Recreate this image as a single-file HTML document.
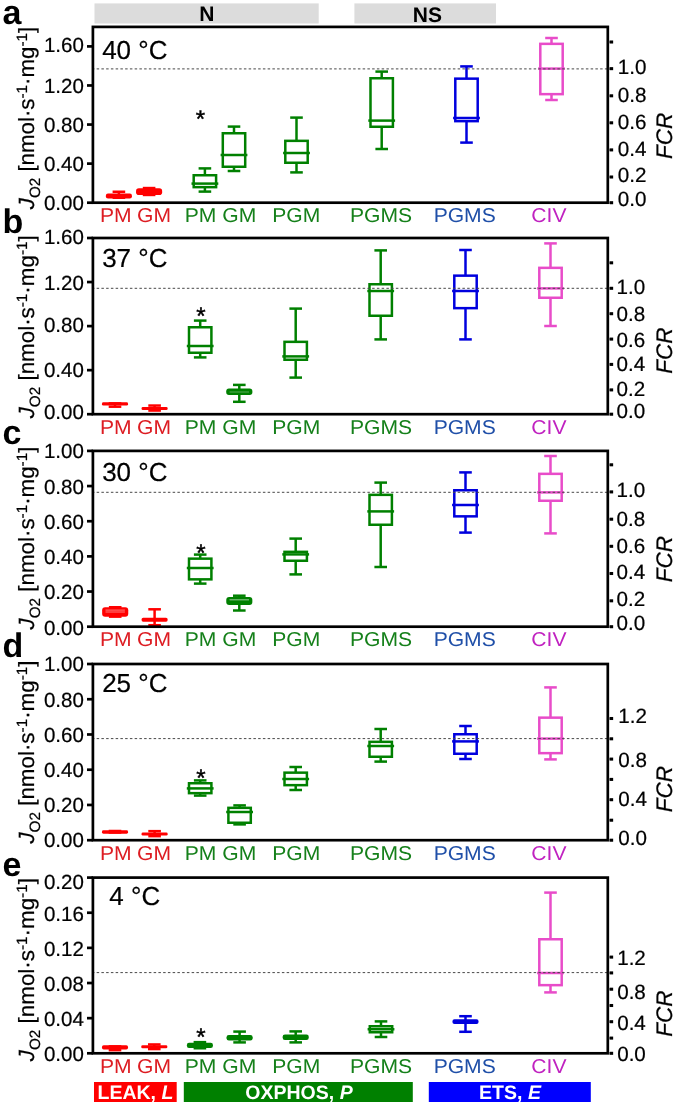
<!DOCTYPE html>
<html lang="en"><head><meta charset="utf-8"><title>Figure</title>
<style>html,body{margin:0;padding:0;background:#fff}svg{display:block;will-change:transform;text-rendering:geometricPrecision}text{font-family:'Liberation Sans', Arial, Helvetica, sans-serif;}.k{stroke:#000;stroke-width:0.22px}</style></head><body>
<svg width="675" height="1105" viewBox="0 0 675 1105">
<rect x="0" y="0" width="675" height="1105" fill="#ffffff"/>
<rect x="94.5" y="3.4" width="224.2" height="20.1" fill="#dcdcdc"/>
<rect x="354.4" y="3.4" width="141.6" height="20.1" fill="#dcdcdc"/>
<text x="206.9" y="21.4" font-size="21" font-weight="bold" text-anchor="middle" fill="#000">N</text>
<text x="427.4" y="21.6" font-size="21" font-weight="bold" text-anchor="middle" fill="#000">NS</text>
<!-- panel a -->
<g stroke="#ff0000" stroke-width="2.5" fill="none"><line x1="118.9" y1="191.75" x2="118.9" y2="194.5"/><line x1="112.6" y1="191.75" x2="125.2" y2="191.75"/><line x1="112.6" y1="197.75" x2="125.2" y2="197.75"/><rect x="105.85" y="193.5" width="26.1" height="5.1" rx="2.14" fill="#ff0000" stroke="none"/></g>
<g stroke="#ff0000" stroke-width="2.5" fill="none"><line x1="149.1" y1="188.05" x2="149.1" y2="189.3"/><line x1="142.8" y1="188.05" x2="155.4" y2="188.05"/><line x1="142.8" y1="194.95" x2="155.4" y2="194.95"/><rect x="136.05" y="188.3" width="26.1" height="6.7" rx="2.81" fill="#ff0000" stroke="none"/></g>
<g stroke="#008000" stroke-width="2.5" fill="none"><line x1="204.9" y1="168.4" x2="204.9" y2="175"/><line x1="204.9" y1="187.4" x2="204.9" y2="191.6"/><line x1="198.6" y1="168.4" x2="211.2" y2="168.4"/><line x1="198.6" y1="191.6" x2="211.2" y2="191.6"/><rect x="193.7" y="175.25" width="22.4" height="11.9"/><line x1="191.5" y1="183.6" x2="218.3" y2="183.6"/></g>
<g stroke="#008000" stroke-width="2.5" fill="none"><line x1="234" y1="126.6" x2="234" y2="133"/><line x1="234" y1="167" x2="234" y2="171"/><line x1="227.7" y1="126.6" x2="240.3" y2="126.6"/><line x1="227.7" y1="171" x2="240.3" y2="171"/><rect x="222.8" y="133.25" width="22.4" height="33.5"/><line x1="220.6" y1="155" x2="247.4" y2="155"/></g>
<g stroke="#008000" stroke-width="2.5" fill="none"><line x1="296.5" y1="117.6" x2="296.5" y2="140.6"/><line x1="296.5" y1="163" x2="296.5" y2="172.4"/><line x1="290.2" y1="117.6" x2="302.8" y2="117.6"/><line x1="290.2" y1="172.4" x2="302.8" y2="172.4"/><rect x="285.3" y="140.85" width="22.4" height="21.9"/><line x1="283.1" y1="153" x2="309.9" y2="153"/></g>
<g stroke="#008000" stroke-width="2.5" fill="none"><line x1="381.7" y1="71.6" x2="381.7" y2="78"/><line x1="381.7" y1="127" x2="381.7" y2="149"/><line x1="375.4" y1="71.6" x2="388" y2="71.6"/><line x1="375.4" y1="149" x2="388" y2="149"/><rect x="370.5" y="78.25" width="22.4" height="48.5"/><line x1="368.3" y1="120.6" x2="395.1" y2="120.6"/></g>
<g stroke="#0000de" stroke-width="2.5" fill="none"><line x1="466.5" y1="66.4" x2="466.5" y2="78.4"/><line x1="466.5" y1="121.4" x2="466.5" y2="142.6"/><line x1="460.2" y1="66.4" x2="472.8" y2="66.4"/><line x1="460.2" y1="142.6" x2="472.8" y2="142.6"/><rect x="455.3" y="78.65" width="22.4" height="42.5"/><line x1="453.1" y1="118" x2="479.9" y2="118"/></g>
<g stroke="#e84cc9" stroke-width="2.5" fill="none"><line x1="551.5" y1="38" x2="551.5" y2="43.6"/><line x1="551.5" y1="94.4" x2="551.5" y2="100"/><line x1="545.2" y1="38" x2="557.8" y2="38"/><line x1="545.2" y1="100" x2="557.8" y2="100"/><rect x="540.3" y="43.85" width="22.4" height="50.3"/><line x1="538.1" y1="68.6" x2="564.9" y2="68.6"/></g>
<line x1="93.9" y1="68.9" x2="607.8" y2="68.9" stroke="#484848" stroke-width="1.0" stroke-dasharray="2.5 2.25" stroke-dashoffset="2"/>
<rect x="92.9" y="26.9" width="514.9" height="175.8" fill="none" stroke="#000" stroke-width="2.7"/>
<line x1="87" y1="46.4" x2="92.9" y2="46.4" stroke="#000" stroke-width="2.7"/>
<text x="83.8" y="52.3" class="k" font-size="20.5" text-anchor="end" fill="#000">1.60</text>
<line x1="87" y1="85.47" x2="92.9" y2="85.47" stroke="#000" stroke-width="2.7"/>
<text x="83.8" y="93.47" class="k" font-size="20.5" text-anchor="end" fill="#000">1.20</text>
<line x1="87" y1="124.55" x2="92.9" y2="124.55" stroke="#000" stroke-width="2.7"/>
<text x="83.8" y="131.85" class="k" font-size="20.5" text-anchor="end" fill="#000">0.80</text>
<line x1="87" y1="163.62" x2="92.9" y2="163.62" stroke="#000" stroke-width="2.7"/>
<text x="83.8" y="171.43" class="k" font-size="20.5" text-anchor="end" fill="#000">0.40</text>
<line x1="87" y1="202.7" x2="92.9" y2="202.7" stroke="#000" stroke-width="2.7"/>
<text x="83.8" y="209.7" class="k" font-size="20.5" text-anchor="end" fill="#000">0.00</text>
<rect x="608.9" y="201.4" width="1.1" height="2.6" fill="#7a7a7a"/><rect x="609.85" y="201.18" width="3.3" height="3.05" fill="#000"/>
<rect x="608.9" y="175.7" width="1.1" height="2.6" fill="#7a7a7a"/><rect x="609.85" y="175.48" width="3.3" height="3.05" fill="#000"/>
<rect x="608.9" y="148.6" width="1.1" height="2.6" fill="#7a7a7a"/><rect x="609.85" y="148.38" width="3.3" height="3.05" fill="#000"/>
<rect x="608.9" y="121.5" width="1.1" height="2.6" fill="#7a7a7a"/><rect x="609.85" y="121.28" width="3.3" height="3.05" fill="#000"/>
<rect x="608.9" y="94.5" width="1.1" height="2.6" fill="#7a7a7a"/><rect x="609.85" y="94.28" width="3.3" height="3.05" fill="#000"/>
<rect x="608.9" y="67.35" width="1.1" height="2.6" fill="#7a7a7a"/><rect x="609.85" y="67.13" width="3.3" height="3.05" fill="#000"/>
<rect x="608.9" y="40.7" width="1.1" height="2.6" fill="#7a7a7a"/><rect x="609.85" y="40.48" width="3.3" height="3.05" fill="#000"/>
<text x="617.8" y="205.5" class="k" font-size="20.6" fill="#000">0.0</text>
<text x="617.8" y="182.3" class="k" font-size="20.6" fill="#000">0.2</text>
<text x="617.8" y="155.5" class="k" font-size="20.6" fill="#000">0.4</text>
<text x="617.8" y="129.3" class="k" font-size="20.6" fill="#000">0.6</text>
<text x="617.8" y="102.2" class="k" font-size="20.6" fill="#000">0.8</text>
<text x="617.8" y="73.9" class="k" font-size="20.6" fill="#000">1.0</text>
<text transform="translate(672.4 135.8) rotate(-90)" class="k" font-size="22.5" font-style="italic" text-anchor="middle" fill="#000">FCR</text>
<text transform="translate(34.2 209.2) rotate(-90)" class="k" font-size="22" fill="#000" textLength="182.3" lengthAdjust="spacingAndGlyphs"><tspan font-style="italic">J</tspan><tspan font-size="15" dy="5.6">O2</tspan><tspan dy="-5.6"> [nmol·s</tspan><tspan font-size="15" dy="-7.2">-1</tspan><tspan dy="7.2">·mg</tspan><tspan font-size="15" dy="-7.2">-1</tspan><tspan dy="7.2">]</tspan></text>
<text x="2.4" y="23.8" font-size="34" font-weight="bold" fill="#000">a</text>
<text x="134.8" y="58.8" class="k" font-size="26" text-anchor="middle" fill="#000">40 °C</text>
<text x="200.4" y="127" font-size="24" text-anchor="middle" fill="#000" stroke="#000" stroke-width="0.45">*</text>
<text transform="translate(115.7 222.4) scale(1.055 1)" font-size="20" text-anchor="middle" fill="#dd1c22">PM</text>
<text transform="translate(154 222.4) scale(1.055 1)" font-size="20" text-anchor="middle" fill="#dd1c22">GM</text>
<text transform="translate(200.5 222.4) scale(1.055 1)" font-size="20" text-anchor="middle" fill="#15801a">PM</text>
<text transform="translate(239.3 222.4) scale(1.055 1)" font-size="20" text-anchor="middle" fill="#15801a">GM</text>
<text transform="translate(296.2 222.4) scale(1.055 1)" font-size="20" text-anchor="middle" fill="#15801a">PGM</text>
<text transform="translate(381.1 222.4) scale(1.055 1)" font-size="20" text-anchor="middle" fill="#15801a">PGMS</text>
<text transform="translate(464.7 222.4) scale(1.055 1)" font-size="20" text-anchor="middle" fill="#1f4fa8">PGMS</text>
<text transform="translate(548.9 222.4) scale(1.055 1)" font-size="20" text-anchor="middle" fill="#c022c0">CIV</text>
<!-- panel b -->
<g stroke="#ff0000" stroke-width="2.5" fill="none"><line x1="115" y1="404.6" x2="115" y2="406.7"/><line x1="108.7" y1="403.4" x2="121.3" y2="403.4"/><line x1="108.7" y1="406.7" x2="121.3" y2="406.7"/><rect x="101.95" y="402.2" width="26.1" height="3.4" rx="1.43" fill="#ff0000" stroke="none"/></g>
<g stroke="#ff0000" stroke-width="2.5" fill="none"><line x1="154.6" y1="405.55" x2="154.6" y2="408"/><line x1="154.6" y1="409" x2="154.6" y2="410.55"/><line x1="148.3" y1="405.55" x2="160.9" y2="405.55"/><line x1="148.3" y1="410.55" x2="160.9" y2="410.55"/><rect x="141.55" y="407" width="26.1" height="3" rx="1.26" fill="#ff0000" stroke="none"/></g>
<g stroke="#008000" stroke-width="2.5" fill="none"><line x1="200.2" y1="320.6" x2="200.2" y2="327"/><line x1="200.2" y1="353" x2="200.2" y2="357.4"/><line x1="193.9" y1="320.6" x2="206.5" y2="320.6"/><line x1="193.9" y1="357.4" x2="206.5" y2="357.4"/><rect x="189" y="327.25" width="22.4" height="25.5"/><line x1="186.8" y1="346" x2="213.6" y2="346"/></g>
<g stroke="#008000" stroke-width="2.5" fill="none"><line x1="239.3" y1="384.9" x2="239.3" y2="389.6"/><line x1="239.3" y1="394" x2="239.3" y2="401.8"/><line x1="233" y1="384.9" x2="245.6" y2="384.9"/><line x1="233" y1="401.8" x2="245.6" y2="401.8"/><rect x="226.25" y="388.6" width="26.1" height="6.4" rx="2.69" fill="#008000" stroke="none"/><line x1="229.6" y1="392" x2="249" y2="392" stroke="#4fa64f" stroke-width="0.7"/><line x1="229.6" y1="392" x2="249" y2="392" stroke="#4fa64f" stroke-width="0.7"/></g>
<g stroke="#008000" stroke-width="2.5" fill="none"><line x1="295.7" y1="308.6" x2="295.7" y2="341.6"/><line x1="295.7" y1="360" x2="295.7" y2="377.6"/><line x1="289.4" y1="308.6" x2="302" y2="308.6"/><line x1="289.4" y1="377.6" x2="302" y2="377.6"/><rect x="284.5" y="341.85" width="22.4" height="17.9"/><line x1="282.3" y1="356.4" x2="309.1" y2="356.4"/></g>
<g stroke="#008000" stroke-width="2.5" fill="none"><line x1="380.7" y1="250.4" x2="380.7" y2="284"/><line x1="380.7" y1="316" x2="380.7" y2="339.4"/><line x1="374.4" y1="250.4" x2="387" y2="250.4"/><line x1="374.4" y1="339.4" x2="387" y2="339.4"/><rect x="369.5" y="284.25" width="22.4" height="31.5"/><line x1="367.3" y1="291" x2="394.1" y2="291"/></g>
<g stroke="#0000de" stroke-width="2.5" fill="none"><line x1="465.5" y1="250" x2="465.5" y2="275.4"/><line x1="465.5" y1="308.4" x2="465.5" y2="339.4"/><line x1="459.2" y1="250" x2="471.8" y2="250"/><line x1="459.2" y1="339.4" x2="471.8" y2="339.4"/><rect x="454.3" y="275.65" width="22.4" height="32.5"/><line x1="452.1" y1="291" x2="478.9" y2="291"/></g>
<g stroke="#e84cc9" stroke-width="2.5" fill="none"><line x1="550.5" y1="243.4" x2="550.5" y2="267.6"/><line x1="550.5" y1="298" x2="550.5" y2="326"/><line x1="544.2" y1="243.4" x2="556.8" y2="243.4"/><line x1="544.2" y1="326" x2="556.8" y2="326"/><rect x="539.3" y="267.85" width="22.4" height="29.9"/><line x1="537.1" y1="288.4" x2="563.9" y2="288.4"/></g>
<line x1="93.9" y1="288.3" x2="607.8" y2="288.3" stroke="#484848" stroke-width="1.0" stroke-dasharray="2.5 2.25" stroke-dashoffset="2"/>
<rect x="92.9" y="238" width="514.9" height="176.2" fill="none" stroke="#000" stroke-width="2.7"/>
<line x1="87" y1="238" x2="92.9" y2="238" stroke="#000" stroke-width="2.7"/>
<text x="83.8" y="243.6" class="k" font-size="20.5" text-anchor="end" fill="#000">1.60</text>
<line x1="87" y1="282.05" x2="92.9" y2="282.05" stroke="#000" stroke-width="2.7"/>
<text x="83.8" y="289.85" class="k" font-size="20.5" text-anchor="end" fill="#000">1.20</text>
<line x1="87" y1="326.1" x2="92.9" y2="326.1" stroke="#000" stroke-width="2.7"/>
<text x="83.8" y="331.9" class="k" font-size="20.5" text-anchor="end" fill="#000">0.80</text>
<line x1="87" y1="370.15" x2="92.9" y2="370.15" stroke="#000" stroke-width="2.7"/>
<text x="83.8" y="377.35" class="k" font-size="20.5" text-anchor="end" fill="#000">0.40</text>
<line x1="87" y1="414.2" x2="92.9" y2="414.2" stroke="#000" stroke-width="2.7"/>
<text x="83.8" y="419" class="k" font-size="20.5" text-anchor="end" fill="#000">0.00</text>
<rect x="608.9" y="412.9" width="1.1" height="2.6" fill="#7a7a7a"/><rect x="609.85" y="412.68" width="3.3" height="3.05" fill="#000"/>
<rect x="608.9" y="388.6" width="1.1" height="2.6" fill="#7a7a7a"/><rect x="609.85" y="388.38" width="3.3" height="3.05" fill="#000"/>
<rect x="608.9" y="363.1" width="1.1" height="2.6" fill="#7a7a7a"/><rect x="609.85" y="362.88" width="3.3" height="3.05" fill="#000"/>
<rect x="608.9" y="337.8" width="1.1" height="2.6" fill="#7a7a7a"/><rect x="609.85" y="337.58" width="3.3" height="3.05" fill="#000"/>
<rect x="608.9" y="312.4" width="1.1" height="2.6" fill="#7a7a7a"/><rect x="609.85" y="312.18" width="3.3" height="3.05" fill="#000"/>
<rect x="608.9" y="287" width="1.1" height="2.6" fill="#7a7a7a"/><rect x="609.85" y="286.78" width="3.3" height="3.05" fill="#000"/>
<rect x="608.9" y="261.5" width="1.1" height="2.6" fill="#7a7a7a"/><rect x="609.85" y="261.28" width="3.3" height="3.05" fill="#000"/>
<text x="616.5" y="418.4" class="k" font-size="20.6" fill="#000">0.0</text>
<text x="616.5" y="395.9" class="k" font-size="20.6" fill="#000">0.2</text>
<text x="616.5" y="371.1" class="k" font-size="20.6" fill="#000">0.4</text>
<text x="616.5" y="346.5" class="k" font-size="20.6" fill="#000">0.6</text>
<text x="616.5" y="320.8" class="k" font-size="20.6" fill="#000">0.8</text>
<text x="616.5" y="294.2" class="k" font-size="20.6" fill="#000">1.0</text>
<text transform="translate(672.4 350.6) rotate(-90)" class="k" font-size="22.5" font-style="italic" text-anchor="middle" fill="#000">FCR</text>
<text transform="translate(34.2 418.3) rotate(-90)" class="k" font-size="22" fill="#000" textLength="183" lengthAdjust="spacingAndGlyphs"><tspan font-style="italic">J</tspan><tspan font-size="15" dy="5.6">O2</tspan><tspan dy="-5.6"> [nmol·s</tspan><tspan font-size="15" dy="-7.2">-1</tspan><tspan dy="7.2">·mg</tspan><tspan font-size="15" dy="-7.2">-1</tspan><tspan dy="7.2">]</tspan></text>
<text x="2.4" y="232.6" font-size="34" font-weight="bold" fill="#000">b</text>
<text x="134.8" y="267.3" class="k" font-size="26" text-anchor="middle" fill="#000">37 °C</text>
<text x="201" y="323.6" font-size="24" text-anchor="middle" fill="#000" stroke="#000" stroke-width="0.45">*</text>
<text transform="translate(115.7 433.9) scale(1.055 1)" font-size="20" text-anchor="middle" fill="#dd1c22">PM</text>
<text transform="translate(154 433.9) scale(1.055 1)" font-size="20" text-anchor="middle" fill="#dd1c22">GM</text>
<text transform="translate(200.5 433.9) scale(1.055 1)" font-size="20" text-anchor="middle" fill="#15801a">PM</text>
<text transform="translate(239.3 433.9) scale(1.055 1)" font-size="20" text-anchor="middle" fill="#15801a">GM</text>
<text transform="translate(296.2 433.9) scale(1.055 1)" font-size="20" text-anchor="middle" fill="#15801a">PGM</text>
<text transform="translate(381.1 433.9) scale(1.055 1)" font-size="20" text-anchor="middle" fill="#15801a">PGMS</text>
<text transform="translate(464.7 433.9) scale(1.055 1)" font-size="20" text-anchor="middle" fill="#1f4fa8">PGMS</text>
<text transform="translate(548.9 433.9) scale(1.055 1)" font-size="20" text-anchor="middle" fill="#c022c0">CIV</text>
<!-- panel c -->
<g stroke="#ff0000" stroke-width="2.5" fill="none"><line x1="108.9" y1="607.25" x2="121.5" y2="607.25"/><line x1="108.9" y1="616.65" x2="121.5" y2="616.65"/><rect x="102.15" y="607.2" width="26.1" height="9.5" rx="3" fill="#ff0000" stroke="none"/><line x1="105.5" y1="610.1" x2="124.9" y2="610.1" stroke="#ffb4b4" stroke-width="0.7"/><line x1="105.5" y1="612" x2="124.9" y2="612" stroke="#ffb4b4" stroke-width="0.7"/></g>
<g stroke="#ff0000" stroke-width="2.5" fill="none"><line x1="154.6" y1="609.3" x2="154.6" y2="618.8"/><line x1="154.6" y1="620.7" x2="154.6" y2="625.2"/><line x1="148.3" y1="609.3" x2="160.9" y2="609.3"/><line x1="148.3" y1="625.2" x2="160.9" y2="625.2"/><rect x="141.55" y="617.8" width="26.1" height="3.9" rx="1.64" fill="#ff0000" stroke="none"/></g>
<g stroke="#008000" stroke-width="2.5" fill="none"><line x1="200.2" y1="554.6" x2="200.2" y2="558.4"/><line x1="200.2" y1="579.6" x2="200.2" y2="583.6"/><line x1="193.9" y1="554.6" x2="206.5" y2="554.6"/><line x1="193.9" y1="583.6" x2="206.5" y2="583.6"/><rect x="189" y="558.65" width="22.4" height="20.7"/><line x1="186.8" y1="568" x2="213.6" y2="568"/></g>
<g stroke="#008000" stroke-width="2.5" fill="none"><line x1="239.3" y1="595.7" x2="239.3" y2="598.1"/><line x1="239.3" y1="604" x2="239.3" y2="610.5"/><line x1="233" y1="595.7" x2="245.6" y2="595.7"/><line x1="233" y1="610.5" x2="245.6" y2="610.5"/><rect x="226.25" y="597.1" width="26.1" height="7.9" rx="3" fill="#008000" stroke="none"/><line x1="229.6" y1="599.8" x2="249" y2="599.8" stroke="#8cc68c" stroke-width="0.7"/><line x1="229.6" y1="599.8" x2="249" y2="599.8" stroke="#8cc68c" stroke-width="0.7"/></g>
<g stroke="#008000" stroke-width="2.5" fill="none"><line x1="295.7" y1="538.6" x2="295.7" y2="551.6"/><line x1="295.7" y1="561" x2="295.7" y2="574.4"/><line x1="289.4" y1="538.6" x2="302" y2="538.6"/><line x1="289.4" y1="574.4" x2="302" y2="574.4"/><rect x="284.5" y="551.85" width="22.4" height="8.9"/><line x1="282.3" y1="554.4" x2="309.1" y2="554.4"/></g>
<g stroke="#008000" stroke-width="2.5" fill="none"><line x1="380.7" y1="482.6" x2="380.7" y2="494.6"/><line x1="380.7" y1="525" x2="380.7" y2="567"/><line x1="374.4" y1="482.6" x2="387" y2="482.6"/><line x1="374.4" y1="567" x2="387" y2="567"/><rect x="369.5" y="494.85" width="22.4" height="29.9"/><line x1="367.3" y1="511.4" x2="394.1" y2="511.4"/></g>
<g stroke="#0000de" stroke-width="2.5" fill="none"><line x1="465.5" y1="472.4" x2="465.5" y2="490"/><line x1="465.5" y1="516.6" x2="465.5" y2="532.6"/><line x1="459.2" y1="472.4" x2="471.8" y2="472.4"/><line x1="459.2" y1="532.6" x2="471.8" y2="532.6"/><rect x="454.3" y="490.25" width="22.4" height="26.1"/><line x1="452.1" y1="505" x2="478.9" y2="505"/></g>
<g stroke="#e84cc9" stroke-width="2.5" fill="none"><line x1="550.5" y1="456" x2="550.5" y2="473.6"/><line x1="550.5" y1="501" x2="550.5" y2="533.4"/><line x1="544.2" y1="456" x2="556.8" y2="456"/><line x1="544.2" y1="533.4" x2="556.8" y2="533.4"/><rect x="539.3" y="473.85" width="22.4" height="26.9"/><line x1="537.1" y1="492.4" x2="563.9" y2="492.4"/></g>
<line x1="93.9" y1="492.3" x2="607.8" y2="492.3" stroke="#484848" stroke-width="1.0" stroke-dasharray="2.5 2.25" stroke-dashoffset="2"/>
<rect x="92.9" y="450.9" width="514.9" height="175.8" fill="none" stroke="#000" stroke-width="2.7"/>
<line x1="87" y1="450.9" x2="92.9" y2="450.9" stroke="#000" stroke-width="2.7"/>
<text x="83.8" y="458.4" class="k" font-size="20.5" text-anchor="end" fill="#000">1.00</text>
<line x1="87" y1="486.06" x2="92.9" y2="486.06" stroke="#000" stroke-width="2.7"/>
<text x="83.8" y="494.26" class="k" font-size="20.5" text-anchor="end" fill="#000">0.80</text>
<line x1="87" y1="521.22" x2="92.9" y2="521.22" stroke="#000" stroke-width="2.7"/>
<text x="83.8" y="529.32" class="k" font-size="20.5" text-anchor="end" fill="#000">0.60</text>
<line x1="87" y1="556.38" x2="92.9" y2="556.38" stroke="#000" stroke-width="2.7"/>
<text x="83.8" y="564.38" class="k" font-size="20.5" text-anchor="end" fill="#000">0.40</text>
<line x1="87" y1="591.54" x2="92.9" y2="591.54" stroke="#000" stroke-width="2.7"/>
<text x="83.8" y="599.44" class="k" font-size="20.5" text-anchor="end" fill="#000">0.20</text>
<line x1="87" y1="626.7" x2="92.9" y2="626.7" stroke="#000" stroke-width="2.7"/>
<text x="83.8" y="634.6" class="k" font-size="20.5" text-anchor="end" fill="#000">0.00</text>
<rect x="608.9" y="625.4" width="1.1" height="2.6" fill="#7a7a7a"/><rect x="609.85" y="625.18" width="3.3" height="3.05" fill="#000"/>
<rect x="608.9" y="599.5" width="1.1" height="2.6" fill="#7a7a7a"/><rect x="609.85" y="599.28" width="3.3" height="3.05" fill="#000"/>
<rect x="608.9" y="572.2" width="1.1" height="2.6" fill="#7a7a7a"/><rect x="609.85" y="571.98" width="3.3" height="3.05" fill="#000"/>
<rect x="608.9" y="545" width="1.1" height="2.6" fill="#7a7a7a"/><rect x="609.85" y="544.78" width="3.3" height="3.05" fill="#000"/>
<rect x="608.9" y="517.9" width="1.1" height="2.6" fill="#7a7a7a"/><rect x="609.85" y="517.68" width="3.3" height="3.05" fill="#000"/>
<rect x="608.9" y="490.6" width="1.1" height="2.6" fill="#7a7a7a"/><rect x="609.85" y="490.38" width="3.3" height="3.05" fill="#000"/>
<rect x="608.9" y="463.5" width="1.1" height="2.6" fill="#7a7a7a"/><rect x="609.85" y="463.28" width="3.3" height="3.05" fill="#000"/>
<text x="616.5" y="629.7" class="k" font-size="20.6" fill="#000">0.0</text>
<text x="616.5" y="605.9" class="k" font-size="20.6" fill="#000">0.2</text>
<text x="616.5" y="578.9" class="k" font-size="20.6" fill="#000">0.4</text>
<text x="616.5" y="552.9" class="k" font-size="20.6" fill="#000">0.6</text>
<text x="616.5" y="525.7" class="k" font-size="20.6" fill="#000">0.8</text>
<text x="616.5" y="497.2" class="k" font-size="20.6" fill="#000">1.0</text>
<text transform="translate(672.4 559) rotate(-90)" class="k" font-size="22.5" font-style="italic" text-anchor="middle" fill="#000">FCR</text>
<text transform="translate(34.2 629.4) rotate(-90)" class="k" font-size="22" fill="#000" textLength="182.8" lengthAdjust="spacingAndGlyphs"><tspan font-style="italic">J</tspan><tspan font-size="15" dy="5.6">O2</tspan><tspan dy="-5.6"> [nmol·s</tspan><tspan font-size="15" dy="-7.2">-1</tspan><tspan dy="7.2">·mg</tspan><tspan font-size="15" dy="-7.2">-1</tspan><tspan dy="7.2">]</tspan></text>
<text x="2.4" y="443.9" font-size="34" font-weight="bold" fill="#000">c</text>
<text x="134.8" y="480.8" class="k" font-size="26" text-anchor="middle" fill="#000">30 °C</text>
<text x="201" y="560.9" font-size="24" text-anchor="middle" fill="#000" stroke="#000" stroke-width="0.45">*</text>
<text transform="translate(115.7 646.4) scale(1.055 1)" font-size="20" text-anchor="middle" fill="#dd1c22">PM</text>
<text transform="translate(154 646.4) scale(1.055 1)" font-size="20" text-anchor="middle" fill="#dd1c22">GM</text>
<text transform="translate(200.5 646.4) scale(1.055 1)" font-size="20" text-anchor="middle" fill="#15801a">PM</text>
<text transform="translate(239.3 646.4) scale(1.055 1)" font-size="20" text-anchor="middle" fill="#15801a">GM</text>
<text transform="translate(296.2 646.4) scale(1.055 1)" font-size="20" text-anchor="middle" fill="#15801a">PGM</text>
<text transform="translate(381.1 646.4) scale(1.055 1)" font-size="20" text-anchor="middle" fill="#15801a">PGMS</text>
<text transform="translate(464.7 646.4) scale(1.055 1)" font-size="20" text-anchor="middle" fill="#1f4fa8">PGMS</text>
<text transform="translate(548.9 646.4) scale(1.055 1)" font-size="20" text-anchor="middle" fill="#c022c0">CIV</text>
<!-- panel d -->
<g stroke="#ff0000" stroke-width="2.5" fill="none"><line x1="108.7" y1="831" x2="121.3" y2="831"/><line x1="108.7" y1="832.5" x2="121.3" y2="832.5"/><rect x="101.95" y="830.3" width="26.1" height="3.4" rx="1.43" fill="#ff0000" stroke="none"/></g>
<g stroke="#ff0000" stroke-width="2.5" fill="none"><line x1="154.6" y1="831.15" x2="154.6" y2="833.6"/><line x1="154.6" y1="834.6" x2="154.6" y2="836.15"/><line x1="148.3" y1="831.15" x2="160.9" y2="831.15"/><line x1="148.3" y1="836.15" x2="160.9" y2="836.15"/><rect x="141.55" y="832.6" width="26.1" height="3" rx="1.26" fill="#ff0000" stroke="none"/></g>
<g stroke="#008000" stroke-width="2.5" fill="none"><line x1="200.2" y1="780.4" x2="200.2" y2="783"/><line x1="200.2" y1="793.4" x2="200.2" y2="795.6"/><line x1="193.9" y1="780.4" x2="206.5" y2="780.4"/><line x1="193.9" y1="795.6" x2="206.5" y2="795.6"/><rect x="189" y="783.25" width="22.4" height="9.9"/><line x1="186.8" y1="788.4" x2="213.6" y2="788.4"/></g>
<g stroke="#008000" stroke-width="2.5" fill="none"><line x1="239.6" y1="805.4" x2="239.6" y2="807.6"/><line x1="239.6" y1="823" x2="239.6" y2="824.4"/><line x1="233.3" y1="805.4" x2="245.9" y2="805.4"/><line x1="233.3" y1="824.4" x2="245.9" y2="824.4"/><rect x="228.4" y="807.85" width="22.4" height="14.9"/><line x1="226.2" y1="812" x2="253" y2="812"/></g>
<g stroke="#008000" stroke-width="2.5" fill="none"><line x1="295.7" y1="767" x2="295.7" y2="772.4"/><line x1="295.7" y1="785.4" x2="295.7" y2="790"/><line x1="289.4" y1="767" x2="302" y2="767"/><line x1="289.4" y1="790" x2="302" y2="790"/><rect x="284.5" y="772.65" width="22.4" height="12.5"/><line x1="282.3" y1="779" x2="309.1" y2="779"/></g>
<g stroke="#008000" stroke-width="2.5" fill="none"><line x1="380.7" y1="729" x2="380.7" y2="741.6"/><line x1="380.7" y1="757" x2="380.7" y2="761.6"/><line x1="374.4" y1="729" x2="387" y2="729"/><line x1="374.4" y1="761.6" x2="387" y2="761.6"/><rect x="369.5" y="741.85" width="22.4" height="14.9"/><line x1="367.3" y1="746" x2="394.1" y2="746"/></g>
<g stroke="#0000de" stroke-width="2.5" fill="none"><line x1="465.5" y1="726" x2="465.5" y2="734"/><line x1="465.5" y1="754" x2="465.5" y2="759"/><line x1="459.2" y1="726" x2="471.8" y2="726"/><line x1="459.2" y1="759" x2="471.8" y2="759"/><rect x="454.3" y="734.25" width="22.4" height="19.5"/><line x1="452.1" y1="741.4" x2="478.9" y2="741.4"/></g>
<g stroke="#e84cc9" stroke-width="2.5" fill="none"><line x1="550.5" y1="687.4" x2="550.5" y2="717.4"/><line x1="550.5" y1="753.4" x2="550.5" y2="759.4"/><line x1="544.2" y1="687.4" x2="556.8" y2="687.4"/><line x1="544.2" y1="759.4" x2="556.8" y2="759.4"/><rect x="539.3" y="717.65" width="22.4" height="35.5"/><line x1="537.1" y1="738.6" x2="563.9" y2="738.6"/></g>
<line x1="93.9" y1="738.6" x2="607.8" y2="738.6" stroke="#484848" stroke-width="1.0" stroke-dasharray="2.5 2.25" stroke-dashoffset="2"/>
<rect x="92.9" y="664" width="514.9" height="176.2" fill="none" stroke="#000" stroke-width="2.7"/>
<line x1="87" y1="664" x2="92.9" y2="664" stroke="#000" stroke-width="2.7"/>
<text x="83.8" y="671.3" class="k" font-size="20.5" text-anchor="end" fill="#000">1.00</text>
<line x1="87" y1="699.24" x2="92.9" y2="699.24" stroke="#000" stroke-width="2.7"/>
<text x="83.8" y="707.14" class="k" font-size="20.5" text-anchor="end" fill="#000">0.80</text>
<line x1="87" y1="734.48" x2="92.9" y2="734.48" stroke="#000" stroke-width="2.7"/>
<text x="83.8" y="742.18" class="k" font-size="20.5" text-anchor="end" fill="#000">0.60</text>
<line x1="87" y1="769.72" x2="92.9" y2="769.72" stroke="#000" stroke-width="2.7"/>
<text x="83.8" y="777.12" class="k" font-size="20.5" text-anchor="end" fill="#000">0.40</text>
<line x1="87" y1="804.96" x2="92.9" y2="804.96" stroke="#000" stroke-width="2.7"/>
<text x="83.8" y="811.96" class="k" font-size="20.5" text-anchor="end" fill="#000">0.20</text>
<line x1="87" y1="840.2" x2="92.9" y2="840.2" stroke="#000" stroke-width="2.7"/>
<text x="83.8" y="846.8" class="k" font-size="20.5" text-anchor="end" fill="#000">0.00</text>
<rect x="608.9" y="838.9" width="1.1" height="2.6" fill="#7a7a7a"/><rect x="609.85" y="838.68" width="3.3" height="3.05" fill="#000"/>
<rect x="608.9" y="818.9" width="1.1" height="2.6" fill="#7a7a7a"/><rect x="609.85" y="818.68" width="3.3" height="3.05" fill="#000"/>
<rect x="608.9" y="798.4" width="1.1" height="2.6" fill="#7a7a7a"/><rect x="609.85" y="798.18" width="3.3" height="3.05" fill="#000"/>
<rect x="608.9" y="778.1" width="1.1" height="2.6" fill="#7a7a7a"/><rect x="609.85" y="777.88" width="3.3" height="3.05" fill="#000"/>
<rect x="608.9" y="757.8" width="1.1" height="2.6" fill="#7a7a7a"/><rect x="609.85" y="757.58" width="3.3" height="3.05" fill="#000"/>
<rect x="608.9" y="737.5" width="1.1" height="2.6" fill="#7a7a7a"/><rect x="609.85" y="737.28" width="3.3" height="3.05" fill="#000"/>
<rect x="608.9" y="717.2" width="1.1" height="2.6" fill="#7a7a7a"/><rect x="609.85" y="716.98" width="3.3" height="3.05" fill="#000"/>
<text x="618.3" y="844.5" class="k" font-size="20.6" fill="#000">0.0</text>
<text x="618.3" y="806.2" class="k" font-size="20.6" fill="#000">0.4</text>
<text x="618.3" y="766.5" class="k" font-size="20.6" fill="#000">0.8</text>
<text x="618.3" y="723.1" class="k" font-size="20.6" fill="#000">1.2</text>
<text transform="translate(672.4 789) rotate(-90)" class="k" font-size="22.5" font-style="italic" text-anchor="middle" fill="#000">FCR</text>
<text transform="translate(34.2 843.6) rotate(-90)" class="k" font-size="22" fill="#000" textLength="183.1" lengthAdjust="spacingAndGlyphs"><tspan font-style="italic">J</tspan><tspan font-size="15" dy="5.6">O2</tspan><tspan dy="-5.6"> [nmol·s</tspan><tspan font-size="15" dy="-7.2">-1</tspan><tspan dy="7.2">·mg</tspan><tspan font-size="15" dy="-7.2">-1</tspan><tspan dy="7.2">]</tspan></text>
<text x="2.4" y="657" font-size="34" font-weight="bold" fill="#000">d</text>
<text x="134.8" y="692.1" class="k" font-size="26" text-anchor="middle" fill="#000">25 °C</text>
<text x="201" y="785.9" font-size="24" text-anchor="middle" fill="#000" stroke="#000" stroke-width="0.45">*</text>
<text transform="translate(115.7 859.9) scale(1.055 1)" font-size="20" text-anchor="middle" fill="#dd1c22">PM</text>
<text transform="translate(154 859.9) scale(1.055 1)" font-size="20" text-anchor="middle" fill="#dd1c22">GM</text>
<text transform="translate(200.5 859.9) scale(1.055 1)" font-size="20" text-anchor="middle" fill="#15801a">PM</text>
<text transform="translate(239.3 859.9) scale(1.055 1)" font-size="20" text-anchor="middle" fill="#15801a">GM</text>
<text transform="translate(296.2 859.9) scale(1.055 1)" font-size="20" text-anchor="middle" fill="#15801a">PGM</text>
<text transform="translate(381.1 859.9) scale(1.055 1)" font-size="20" text-anchor="middle" fill="#15801a">PGMS</text>
<text transform="translate(464.7 859.9) scale(1.055 1)" font-size="20" text-anchor="middle" fill="#1f4fa8">PGMS</text>
<text transform="translate(548.9 859.9) scale(1.055 1)" font-size="20" text-anchor="middle" fill="#c022c0">CIV</text>
<!-- panel e -->
<g stroke="#ff0000" stroke-width="2.5" fill="none"><line x1="115" y1="1048.4" x2="115" y2="1050.15"/><line x1="108.7" y1="1046.4" x2="121.3" y2="1046.4"/><line x1="108.7" y1="1050.15" x2="121.3" y2="1050.15"/><rect x="101.95" y="1045.2" width="26.1" height="4.2" rx="1.76" fill="#ff0000" stroke="none"/></g>
<g stroke="#ff0000" stroke-width="2.5" fill="none"><line x1="154.3" y1="1044.45" x2="154.3" y2="1046.2"/><line x1="154.3" y1="1047.3" x2="154.3" y2="1049.05"/><line x1="148" y1="1044.45" x2="160.6" y2="1044.45"/><line x1="148" y1="1049.05" x2="160.6" y2="1049.05"/><rect x="141.25" y="1045.2" width="26.1" height="3.1" rx="1.3" fill="#ff0000" stroke="none"/></g>
<g stroke="#008000" stroke-width="2.5" fill="none"><line x1="199.9" y1="1042.15" x2="199.9" y2="1043.8"/><line x1="199.9" y1="1047" x2="199.9" y2="1048.25"/><line x1="193.6" y1="1042.15" x2="206.2" y2="1042.15"/><line x1="193.6" y1="1048.25" x2="206.2" y2="1048.25"/><rect x="186.85" y="1042.8" width="26.1" height="5.2" rx="2.18" fill="#008000" stroke="none"/></g>
<g stroke="#008000" stroke-width="2.5" fill="none"><line x1="239.6" y1="1031.6" x2="239.6" y2="1036"/><line x1="239.6" y1="1039.4" x2="239.6" y2="1042.4"/><line x1="233.3" y1="1031.6" x2="245.9" y2="1031.6"/><line x1="233.3" y1="1042.4" x2="245.9" y2="1042.4"/><rect x="226.55" y="1035" width="26.1" height="5.4" rx="2.27" fill="#008000" stroke="none"/></g>
<g stroke="#008000" stroke-width="2.5" fill="none"><line x1="295.7" y1="1031.4" x2="295.7" y2="1035.6"/><line x1="295.7" y1="1039" x2="295.7" y2="1042.4"/><line x1="289.4" y1="1031.4" x2="302" y2="1031.4"/><line x1="289.4" y1="1042.4" x2="302" y2="1042.4"/><rect x="282.65" y="1034.6" width="26.1" height="5.4" rx="2.27" fill="#008000" stroke="none"/></g>
<g stroke="#008000" stroke-width="2.5" fill="none"><line x1="381" y1="1021.4" x2="381" y2="1026"/><line x1="381" y1="1032.5" x2="381" y2="1037"/><line x1="374.7" y1="1021.4" x2="387.3" y2="1021.4"/><line x1="374.7" y1="1037" x2="387.3" y2="1037"/><rect x="369.8" y="1026.25" width="22.4" height="6"/><line x1="367.6" y1="1029.25" x2="394.4" y2="1029.25"/></g>
<g stroke="#0000de" stroke-width="2.5" fill="none"><line x1="465.5" y1="1016.2" x2="465.5" y2="1020.2"/><line x1="465.5" y1="1022.9" x2="465.5" y2="1031.8"/><line x1="459.2" y1="1016.2" x2="471.8" y2="1016.2"/><line x1="459.2" y1="1031.8" x2="471.8" y2="1031.8"/><rect x="452.45" y="1019.2" width="26.1" height="4.7" rx="1.97" fill="#0000de" stroke="none"/></g>
<g stroke="#e84cc9" stroke-width="2.5" fill="none"><line x1="550.5" y1="892.6" x2="550.5" y2="939"/><line x1="550.5" y1="985.4" x2="550.5" y2="992.4"/><line x1="544.2" y1="892.6" x2="556.8" y2="892.6"/><line x1="544.2" y1="992.4" x2="556.8" y2="992.4"/><rect x="539.3" y="939.25" width="22.4" height="45.9"/><line x1="537.1" y1="973" x2="563.9" y2="973"/></g>
<line x1="93.9" y1="972.6" x2="607.8" y2="972.6" stroke="#484848" stroke-width="1.0" stroke-dasharray="2.5 2.25" stroke-dashoffset="2"/>
<rect x="92.9" y="877.6" width="514.9" height="175.7" fill="none" stroke="#000" stroke-width="2.7"/>
<line x1="87" y1="877.6" x2="92.9" y2="877.6" stroke="#000" stroke-width="2.7"/>
<text x="83.8" y="888.8" class="k" font-size="20.5" text-anchor="end" fill="#000">0.20</text>
<line x1="87" y1="912.74" x2="92.9" y2="912.74" stroke="#000" stroke-width="2.7"/>
<text x="83.8" y="920.94" class="k" font-size="20.5" text-anchor="end" fill="#000">0.16</text>
<line x1="87" y1="947.88" x2="92.9" y2="947.88" stroke="#000" stroke-width="2.7"/>
<text x="83.8" y="955.98" class="k" font-size="20.5" text-anchor="end" fill="#000">0.12</text>
<line x1="87" y1="983.02" x2="92.9" y2="983.02" stroke="#000" stroke-width="2.7"/>
<text x="83.8" y="990.92" class="k" font-size="20.5" text-anchor="end" fill="#000">0.08</text>
<line x1="87" y1="1018.16" x2="92.9" y2="1018.16" stroke="#000" stroke-width="2.7"/>
<text x="83.8" y="1025.76" class="k" font-size="20.5" text-anchor="end" fill="#000">0.04</text>
<line x1="87" y1="1053.3" x2="92.9" y2="1053.3" stroke="#000" stroke-width="2.7"/>
<text x="83.8" y="1060.6" class="k" font-size="20.5" text-anchor="end" fill="#000">0.00</text>
<rect x="608.9" y="1052" width="1.1" height="2.6" fill="#7a7a7a"/><rect x="609.85" y="1051.78" width="3.3" height="3.05" fill="#000"/>
<rect x="608.9" y="1036.8" width="1.1" height="2.6" fill="#7a7a7a"/><rect x="609.85" y="1036.58" width="3.3" height="3.05" fill="#000"/>
<rect x="608.9" y="1020.4" width="1.1" height="2.6" fill="#7a7a7a"/><rect x="609.85" y="1020.18" width="3.3" height="3.05" fill="#000"/>
<rect x="608.9" y="1004.2" width="1.1" height="2.6" fill="#7a7a7a"/><rect x="609.85" y="1003.98" width="3.3" height="3.05" fill="#000"/>
<rect x="608.9" y="987.9" width="1.1" height="2.6" fill="#7a7a7a"/><rect x="609.85" y="987.68" width="3.3" height="3.05" fill="#000"/>
<rect x="608.9" y="971.6" width="1.1" height="2.6" fill="#7a7a7a"/><rect x="609.85" y="971.38" width="3.3" height="3.05" fill="#000"/>
<rect x="608.9" y="955.8" width="1.1" height="2.6" fill="#7a7a7a"/><rect x="609.85" y="955.58" width="3.3" height="3.05" fill="#000"/>
<text x="617.2" y="1060.5" class="k" font-size="20.6" fill="#000">0.0</text>
<text x="617.2" y="1030.3" class="k" font-size="20.6" fill="#000">0.4</text>
<text x="617.2" y="998.7" class="k" font-size="20.6" fill="#000">0.8</text>
<text x="617.2" y="964.8" class="k" font-size="20.6" fill="#000">1.2</text>
<text transform="translate(672.4 1013.5) rotate(-90)" class="k" font-size="22.5" font-style="italic" text-anchor="middle" fill="#000">FCR</text>
<text transform="translate(34.2 1061.2) rotate(-90)" class="k" font-size="22" fill="#000" textLength="183.1" lengthAdjust="spacingAndGlyphs"><tspan font-style="italic">J</tspan><tspan font-size="15" dy="5.6">O2</tspan><tspan dy="-5.6"> [nmol·s</tspan><tspan font-size="15" dy="-7.2">-1</tspan><tspan dy="7.2">·mg</tspan><tspan font-size="15" dy="-7.2">-1</tspan><tspan dy="7.2">]</tspan></text>
<text x="2.4" y="875.9" font-size="34" font-weight="bold" fill="#000">e</text>
<text x="134.8" y="905.1" class="k" font-size="26" text-anchor="middle" fill="#000">4 °C</text>
<text x="201" y="1044.8" font-size="24" text-anchor="middle" fill="#000" stroke="#000" stroke-width="0.45">*</text>
<text transform="translate(115.7 1073) scale(1.055 1)" font-size="20" text-anchor="middle" fill="#dd1c22">PM</text>
<text transform="translate(154 1073) scale(1.055 1)" font-size="20" text-anchor="middle" fill="#dd1c22">GM</text>
<text transform="translate(200.5 1073) scale(1.055 1)" font-size="20" text-anchor="middle" fill="#15801a">PM</text>
<text transform="translate(239.3 1073) scale(1.055 1)" font-size="20" text-anchor="middle" fill="#15801a">GM</text>
<text transform="translate(296.2 1073) scale(1.055 1)" font-size="20" text-anchor="middle" fill="#15801a">PGM</text>
<text transform="translate(381.1 1073) scale(1.055 1)" font-size="20" text-anchor="middle" fill="#15801a">PGMS</text>
<text transform="translate(464.7 1073) scale(1.055 1)" font-size="20" text-anchor="middle" fill="#1f4fa8">PGMS</text>
<text transform="translate(548.9 1073) scale(1.055 1)" font-size="20" text-anchor="middle" fill="#c022c0">CIV</text>
<rect x="94" y="1082" width="82.7" height="20" fill="#ff0000"/>
<rect x="183.8" y="1082" width="229" height="20" fill="#008000"/>
<rect x="428.8" y="1082" width="162" height="20" fill="#0000ff"/>
<text x="135.4" y="1099" font-size="19.5" font-weight="bold" text-anchor="middle" fill="#fff">LEAK, <tspan font-style="italic">L</tspan></text>
<text x="299" y="1099" font-size="19.5" font-weight="bold" text-anchor="middle" fill="#fff">OXPHOS, <tspan font-style="italic">P</tspan></text>
<text x="510" y="1099" font-size="19.5" font-weight="bold" text-anchor="middle" fill="#fff">ETS, <tspan font-style="italic">E</tspan></text>
</svg></body></html>
